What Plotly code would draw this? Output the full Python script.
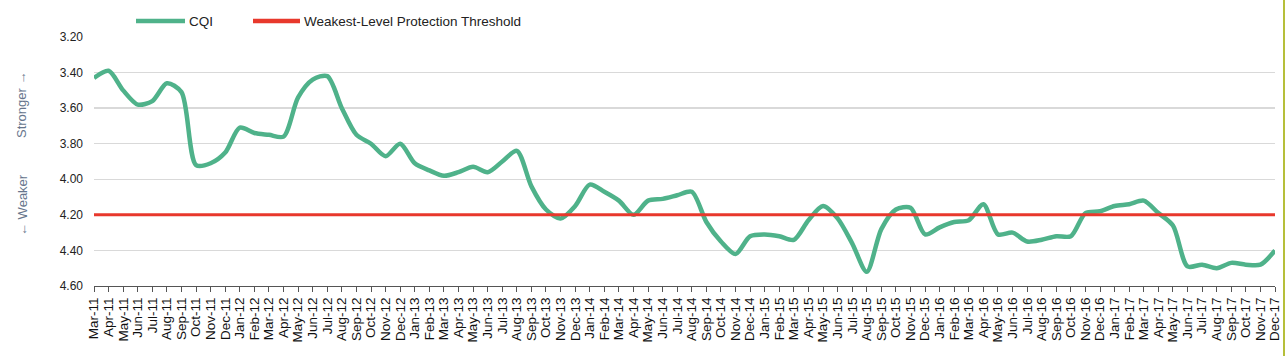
import plotly.graph_objects as go

months = [
    "Mar-11", "Apr-11", "May-11", "Jun-11", "Jul-11", "Aug-11", "Sep-11", "Oct-11", "Nov-11", "Dec-11",
    "Jan-12", "Feb-12", "Mar-12", "Apr-12", "May-12", "Jun-12", "Jul-12", "Aug-12", "Sep-12", "Oct-12", "Nov-12", "Dec-12",
    "Jan-13", "Feb-13", "Mar-13", "Apr-13", "May-13", "Jun-13", "Jul-13", "Aug-13", "Sep-13", "Oct-13", "Nov-13", "Dec-13",
    "Jan-14", "Feb-14", "Mar-14", "Apr-14", "May-14", "Jun-14", "Jul-14", "Aug-14", "Sep-14", "Oct-14", "Nov-14", "Dec-14",
    "Jan-15", "Feb-15", "Mar-15", "Apr-15", "May-15", "Jun-15", "Jul-15", "Aug-15", "Sep-15", "Oct-15", "Nov-15", "Dec-15",
    "Jan-16", "Feb-16", "Mar-16", "Apr-16", "May-16", "Jun-16", "Jul-16", "Aug-16", "Sep-16", "Oct-16", "Nov-16", "Dec-16",
    "Jan-17", "Feb-17", "Mar-17", "Apr-17", "May-17", "Jun-17", "Jul-17", "Aug-17", "Sep-17", "Oct-17", "Nov-17", "Dec-17",
]

cqi = [
    3.43, 3.39, 3.50, 3.58, 3.56, 3.46, 3.51, 3.92, 3.91, 3.85,
    3.71, 3.74, 3.75, 3.76, 3.54, 3.44, 3.42, 3.60, 3.75, 3.80, 3.87, 3.80,
    3.91, 3.95, 3.98, 3.96, 3.93, 3.96, 3.90, 3.84, 4.04, 4.17, 4.22, 4.15,
    4.03, 4.07, 4.12, 4.20, 4.12, 4.11, 4.09, 4.07, 4.24, 4.35, 4.42, 4.32,
    4.31, 4.32, 4.34, 4.23, 4.15, 4.22, 4.36, 4.52, 4.28, 4.17, 4.16, 4.31,
    4.27, 4.24, 4.23, 4.14, 4.31, 4.30, 4.35, 4.34, 4.32, 4.32, 4.19, 4.18,
    4.15, 4.14, 4.12, 4.19, 4.26, 4.49, 4.48, 4.50, 4.47, 4.48, 4.48, 4.40,
]

threshold = 4.20
y_ticks = [3.20, 3.40, 3.60, 3.80, 4.00, 4.20, 4.40, 4.60]
series_names = ["CQI", "Weakest-Level Protection Threshold"]
series_colors = ["#4fb28a", "#e8382c"]

FONT = "Liberation Sans, Arial, sans-serif"
W, H = 1286, 356
ML, MR, MT, MB = 94, 11, 37, 70
PW, PH = W - ML - MR, H - MT - MB


def px_x(p):
    return (p - ML) / PW


def px_y(p):
    return (H - MB - p) / PH


fig = go.Figure()
fig.add_trace(go.Scatter(
    x=months, y=cqi, mode="lines", name=series_names[0],
    line=dict(color=series_colors[0], width=4.5, shape="spline", smoothing=0.8),
))
fig.add_trace(go.Scatter(
    x=[months[0], months[-1]], y=[threshold, threshold], mode="lines",
    name=series_names[1],
    line=dict(color=series_colors[1], width=3),
))

# manual legend (line sample + label)
legend_items = [(136, 185, 187), (253, 300, 302)]
shapes = []
annotations = []
for (x0, x1, xt), name, col in zip(legend_items, series_names, series_colors):
    shapes.append(dict(type="line", xref="paper", yref="paper",
                       x0=px_x(x0), x1=px_x(x1), y0=px_y(21), y1=px_y(21),
                       line=dict(color=col, width=4.5)))
    annotations.append(dict(text=name, xref="paper", yref="paper",
                            x=px_x(xt), y=px_y(21), xanchor="left", yanchor="middle",
                            showarrow=False, font=dict(size=13.5, color="#222222")))

annotations += [
    dict(text="Stronger \u2192", textangle=-90, xref="paper", yref="paper",
         x=px_x(22), y=px_y(105), xanchor="center", yanchor="middle",
         showarrow=False, font=dict(size=13, color="#66758c")),
    dict(text="\u2190 Weaker", textangle=-90, xref="paper", yref="paper",
         x=px_x(22), y=px_y(205), xanchor="center", yanchor="middle",
         showarrow=False, font=dict(size=13, color="#66758c")),
]

shapes.append(dict(type="line", xref="paper", yref="paper",
                   x0=px_x(1284), x1=px_x(1284), y0=px_y(356), y1=px_y(0),
                   line=dict(color="#b6bf3a", width=2)))

fig.update_layout(
    width=W, height=H,
    margin=dict(l=ML, r=MR, t=MT, b=MB, autoexpand=False),
    paper_bgcolor="white", plot_bgcolor="white",
    font=dict(family=FONT, size=11, color="#222222"),
    showlegend=False,
    hovermode=False,
    xaxis=dict(
        type="category", range=[0, len(months) - 1], automargin=False,
        tickmode="array", tickvals=months, ticktext=months, tickangle=-90,
        showgrid=False, showline=True, linecolor="#555555", linewidth=1,
        ticks="outside", ticklen=5, tickcolor="#555555",
        tickfont=dict(size=13.5, color="#111111"),
    ),
    yaxis=dict(
        range=[4.60, 3.20], tickvals=y_ticks, ticktext=[f"{v:.2f}" for v in y_ticks],
        automargin=False,
        showgrid=True, gridcolor="#d9d9d9", gridwidth=1.5,
        showline=False, zeroline=False, ticks="", ticklabelstandoff=10,
        tickfont=dict(size=12, color="#222222"),
    ),
    annotations=annotations,
    shapes=shapes,
)

fig.write_html(
    "out.html",
    config={"displayModeBar": False, "staticPlot": True},
    post_script="document.body.style.margin='0';document.body.style.overflow='hidden';",
)
